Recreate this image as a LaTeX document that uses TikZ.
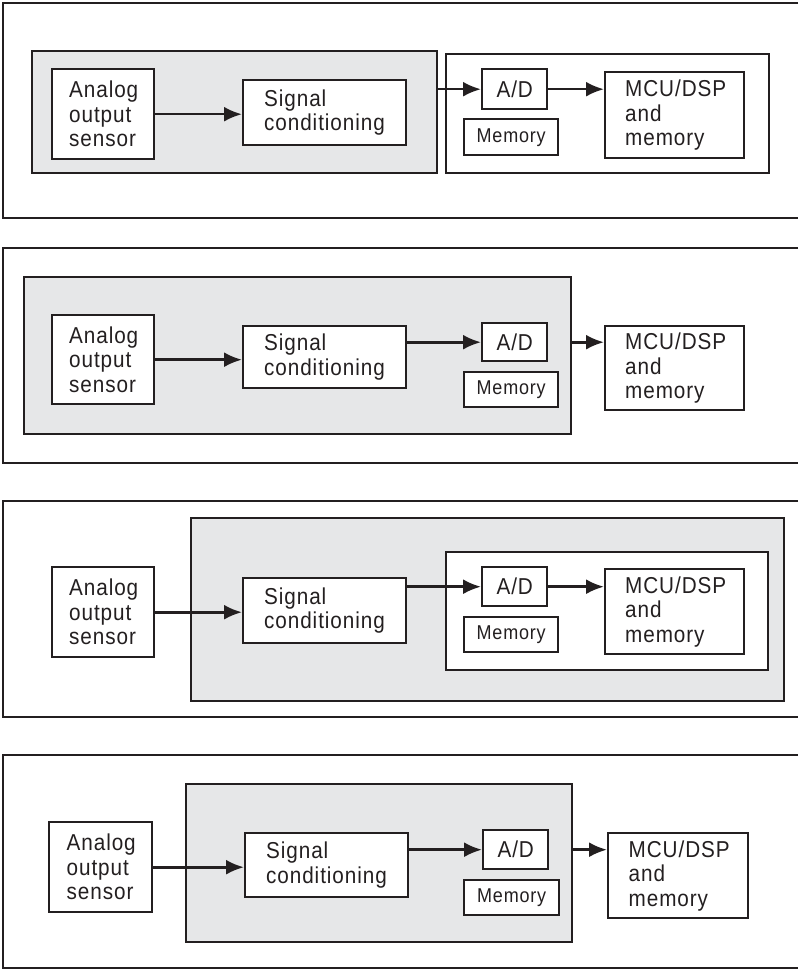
\documentclass[tikz,border=0pt]{standalone}
\usepackage{fontspec}
\setmainfont{Liberation Sans}[LetterSpace=4,FakeStretch=0.9]
\usetikzlibrary{arrows.meta}
\definecolor{ink}{HTML}{231F20}
\definecolor{panelgray}{HTML}{E6E7E8}
\tikzset{
  frameline/.style={draw=ink, line width=2.4pt},
  graybox/.style={draw=ink, fill=panelgray, line width=2.4pt, anchor=north west, inner sep=0pt},
  whitebox/.style={draw=ink, fill=white, line width=2.4pt, anchor=north west, inner sep=0pt},
  txtbox/.style={draw=ink, fill=white, line width=2.4pt, anchor=north west, text=ink,
     font=\fontsize{23}{24.5}\selectfont, align=left, inner ysep=0pt},
  anbox/.style={txtbox, minimum width=102pt, inner xsep=17pt, text width=68pt},
  sigbox/.style={txtbox, minimum width=163pt, inner xsep=21pt, text width=121pt},
  mcubox/.style={txtbox, minimum width=139pt, inner xsep=20pt, text width=99pt},
  adbox/.style={draw=ink, fill=white, line width=2.4pt, anchor=north west, text=ink,
     font=\fontsize{23}{24.5}\selectfont, inner sep=0pt, minimum width=65pt},
  membox/.style={draw=ink, fill=white, line width=2.4pt, anchor=north west, text=ink,
     font=\fontsize{20}{21}\selectfont, inner sep=0pt, minimum width=94pt},
  arr/.style={draw=ink, line width=2.6pt, -{Latex[length=18pt,width=15pt]}}
}
\begin{document}
\begin{tikzpicture}[x=1pt,y=-1pt]
\useasboundingbox (0,0) rectangle (798,971);

% ---------- Panel 1 ----------
\draw[frameline] (798,3) -- (3,3) -- (3,218) -- (798,218);
\node[graybox, minimum width=405pt, minimum height=122pt] (g1) at (31,50) {};
\node[whitebox, minimum width=323pt, minimum height=119pt] (w1) at (445,53) {};
\node[anbox, minimum height=90pt] (an1) at (51,68) {Analog\\output\\sensor};
\node[sigbox, minimum height=65pt] (sig1) at (242,79) {Signal\\conditioning};
\node[adbox, minimum height=40pt] (ad1) at (481,68) {A/D};
\node[membox, minimum height=36pt] (mem1) at (463,118) {Memory};
\node[mcubox, minimum height=86pt] (mcu1) at (604,71) {MCU/DSP\\and\\memory};
\draw[arr] (an1.east) -- (sig1.west |- an1.east);
\draw[arr] (g1.east |- ad1.west) -- (ad1.west);
\draw[arr] (ad1.east) -- (mcu1.west |- ad1.east);

% ---------- Panel 2 ----------
\draw[frameline] (798,248) -- (3,248) -- (3,463) -- (798,463);
\node[graybox, minimum width=547pt, minimum height=157pt] (g2) at (23,276) {};
\node[anbox, minimum height=89pt] (an2) at (51,314) {Analog\\output\\sensor};
\node[sigbox, minimum height=62pt] (sig2) at (242,325) {Signal\\conditioning};
\node[adbox, minimum height=38pt] (ad2) at (481,322) {A/D};
\node[membox, minimum height=35pt] (mem2) at (463,371) {Memory};
\node[mcubox, minimum height=84pt] (mcu2) at (604,325) {MCU/DSP\\and\\memory};
\draw[arr] (an2.east) -- (sig2.west |- an2.east);
\draw[arr] (sig2.east |- ad2.west) -- (ad2.west);
\draw[arr] (g2.east |- ad2.west) -- (mcu2.west |- ad2.west);

% ---------- Panel 3 ----------
\draw[frameline] (798,501) -- (3,501) -- (3,717) -- (798,717);
\node[graybox, minimum width=593pt, minimum height=183pt] (g3) at (190,517) {};
\node[whitebox, minimum width=322pt, minimum height=118pt] (w3) at (445,551) {};
\node[anbox, minimum height=90pt] (an3) at (51,566) {Analog\\output\\sensor};
\node[sigbox, minimum height=65pt] (sig3) at (242,577) {Signal\\conditioning};
\node[adbox, minimum height=39pt] (ad3) at (481,566) {A/D};
\node[membox, minimum height=35pt] (mem3) at (463,616) {Memory};
\node[mcubox, minimum height=85pt] (mcu3) at (604,568) {MCU/DSP\\and\\memory};
\draw[arr] (an3.east) -- (sig3.west |- an3.east);
\draw[arr] (sig3.east |- ad3.west) -- (ad3.west);
\draw[arr] (ad3.east) -- (mcu3.west |- ad3.east);

% ---------- Panel 4 ----------
\draw[frameline] (798,755) -- (3,755) -- (3,968) -- (798,968);
\node[graybox, minimum width=386pt, minimum height=158pt] (g4) at (185,783) {};
\node[anbox, minimum width=103pt, minimum height=90pt] (an4) at (48,821) {Analog\\output\\sensor};
\node[sigbox, minimum width=162pt, minimum height=64pt] (sig4) at (244,832) {Signal\\conditioning};
\node[adbox, minimum height=39pt] (ad4) at (482,829) {A/D};
\node[membox, minimum width=95pt, minimum height=35pt] (mem4) at (463,879) {Memory};
\node[mcubox, minimum width=140pt, minimum height=85pt] (mcu4) at (607,832) {MCU/DSP\\and\\memory};
\draw[arr] (an4.east) -- (sig4.west |- an4.east);
\draw[arr] (sig4.east |- ad4.west) -- (ad4.west);
\draw[arr] (g4.east |- ad4.west) -- (mcu4.west |- ad4.west);
\end{tikzpicture}
\end{document}
